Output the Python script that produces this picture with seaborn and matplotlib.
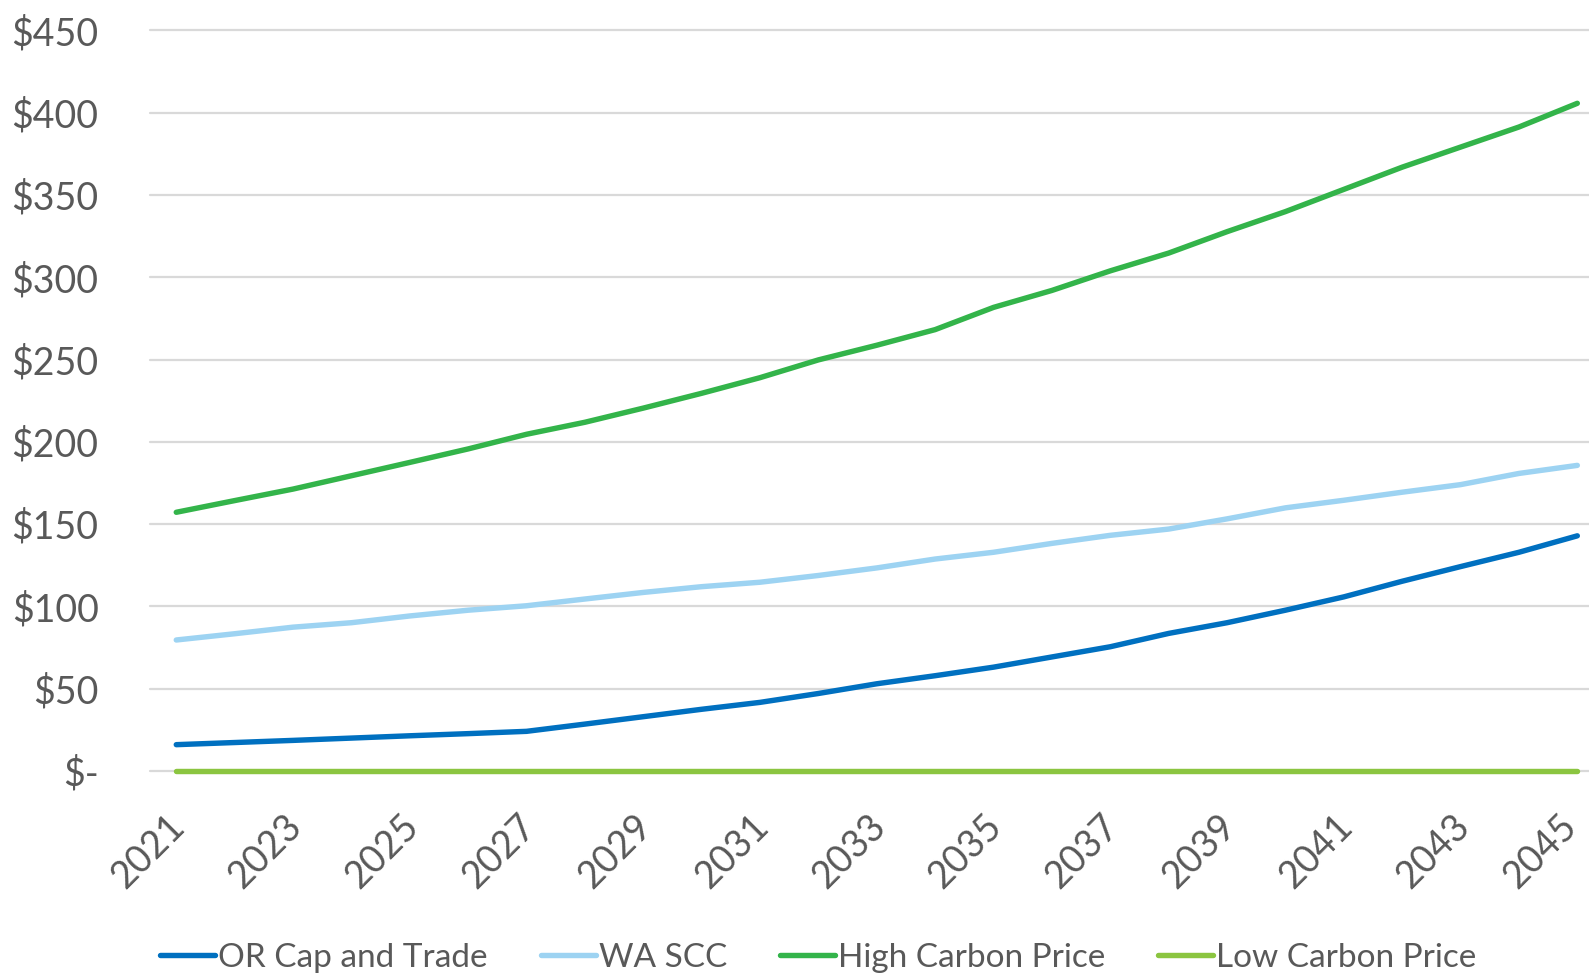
import matplotlib
matplotlib.use("Agg")
import matplotlib.pyplot as plt
import matplotlib.transforms as mtransforms
import seaborn as sns
import pandas as pd
import numpy as np

years = list(range(2021, 2046))
or_cap_trade = [16.0, 17.3, 18.6, 20.0, 21.4, 22.7, 24.1, 28.5, 33.0, 37.5, 41.7, 47.1, 53.0, 57.9,
                63.1, 69.3, 75.5, 83.6, 90.1, 97.7, 105.8, 115.3, 124.2, 132.9, 142.9]
wa_scc = [79.6, 83.4, 87.4, 90.1, 94.2, 97.7, 100.4, 104.5, 108.5, 112.0, 114.7, 118.8, 123.4, 128.8,
          132.9, 138.3, 143.2, 147.0, 153.2, 159.9, 164.5, 169.4, 174.0, 180.8, 185.7]
high_carbon = [157.2, 164.3, 171.3, 179.4, 187.5, 195.7, 204.6, 211.9, 220.5, 229.5, 239.0, 249.8,
               258.7, 268.2, 281.7, 292.0, 303.9, 314.7, 327.7, 339.9, 353.4, 366.9, 379.1, 391.3, 405.7]
low_carbon = [0.0] * 25

series_names = ["OR Cap and Trade", "WA SCC", "High Carbon Price", "Low Carbon Price"]
series_values = [or_cap_trade, wa_scc, high_carbon, low_carbon]
colors = ["#0070C0", "#9DD3F2", "#33B44A", "#8BC540"]

y_ticks = [0, 50, 100, 150, 200, 250, 300, 350, 400, 450]
y_labels = ["$-", "$50", "$100", "$150", "$200", "$250", "$300", "$350", "$400", "$450"]
x_ticks = list(range(2021, 2046, 2))

df = pd.concat([pd.DataFrame({"Year": years, "Value": v, "Series": n})
                for n, v in zip(series_names, series_values)], ignore_index=True)

sns.set_theme(style="white")
plt.rcParams["font.family"] = ["Lato", "DejaVu Sans"]

fig = plt.figure(figsize=(15.89, 9.8), dpi=100)
ax = fig.add_axes([150 / 1589, (980 - 771) / 980, 1 - 150 / 1589, (771 - 30.4) / 980])

for y in y_ticks:
    ax.axhline(y, color="#D9D9D9", lw=1.6, zorder=0, clip_on=False)

sns.lineplot(data=df, x="Year", y="Value", hue="Series", hue_order=series_names,
             palette=colors, linewidth=3.9, ax=ax, legend=False, zorder=3,
             solid_capstyle="round")
for ln in ax.get_lines():
    ln.set_clip_on(False)

ax.set_xlim(2020.55, 2045.2)
ax.set_ylim(0, 450)
ax.set_yticks(y_ticks)
ax.set_yticklabels(y_labels)
ax.set_xticks(x_ticks)
ax.set_xticklabels([str(t) for t in x_ticks], rotation=45, ha="right", va="center",
                   rotation_mode="anchor")
ax.tick_params(axis="y", labelsize=27, labelcolor="#595959", length=0, pad=37)
ax.tick_params(axis="x", labelsize=27, labelcolor="#595959", length=0, pad=36)
xlabs = ax.get_xticklabels()
for i, lab in enumerate(xlabs):
    dx = 3 if i < len(xlabs) - 1 else -6
    lab.set_transform(lab.get_transform() +
                      mtransforms.ScaledTranslation(dx / 100, 0, fig.dpi_scale_trans))
for lab in ax.get_yticklabels():
    lab.set_horizontalalignment("right")
ax.set_xlabel("")
ax.set_ylabel("")
for s in ax.spines.values():
    s.set_visible(False)

handles = [plt.Line2D([], [], color=c, lw=3.9, solid_capstyle="round") for c in colors]
leg = ax.legend(handles, series_names, loc="center", bbox_to_anchor=(0.515, 22 / 980),
                bbox_transform=fig.transFigure, ncol=4, frameon=False, fontsize=24,
                handlelength=1.65, handletextpad=0.08, columnspacing=1.6)
for t in leg.get_texts():
    t.set_color("#595959")

fig.savefig("out.png", dpi=100)
